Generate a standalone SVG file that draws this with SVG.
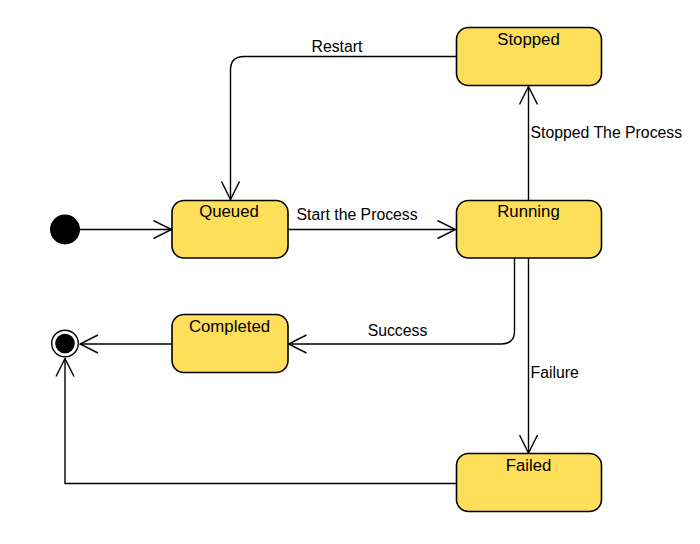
<svg xmlns="http://www.w3.org/2000/svg" width="700" height="544" viewBox="0 0 700 544">
<defs>
<style>
.state{fill:#FFDE59;stroke:#000;stroke-width:1.6}
.lbl{font-family:"Liberation Sans",Arial,sans-serif;font-size:15.8px;fill:#000}
.nl{font-family:"Liberation Sans",Arial,sans-serif;font-size:16.8px;fill:#000;text-anchor:middle}
.mid{text-anchor:middle}
.edge{fill:none;stroke:#000;stroke-width:1.4}
</style>
<marker id="arr" viewBox="0 0 20 20" refX="19" refY="10" markerWidth="20" markerHeight="20" markerUnits="userSpaceOnUse" orient="auto">
<path d="M1,1 L19,10 L1,19" fill="none" stroke="#000" stroke-width="1.4"/>
</marker>
</defs>
<rect width="700" height="544" fill="#fff"/>
<g id="connectors">
<path id="e-init" class="edge" d="M80,229.5 L171.5,229.5" marker-end="url(#arr)"/>
<path id="e-start" class="edge" d="M288,229.5 L455.5,229.5" marker-end="url(#arr)"/>
<path id="e-stop" class="edge" d="M528.5,200 L528.5,86.5" marker-end="url(#arr)"/>
<path id="e-restart" class="edge" d="M456,56.5 L244,56.5 Q230.5,56.5 230.5,70 L230.5,199.5" marker-end="url(#arr)"/>
<path id="e-success" class="edge" d="M514.5,258 L514.5,331 Q514.5,344 501.5,344 L288.5,344" marker-end="url(#arr)"/>
<path id="e-failure" class="edge" d="M528.5,258 L528.5,453" marker-end="url(#arr)"/>
<path id="e-complete" class="edge" d="M172,344 L80,344" marker-end="url(#arr)"/>
<path id="e-failed" class="edge" d="M456,483.5 L65,483.5 L65,358.5" marker-end="url(#arr)"/>
<text class="lbl mid" x="337" y="52">Restart</text>
<text class="lbl" x="296.5" y="219.5">Start the Process</text>
<text class="lbl" x="530.5" y="137.5">Stopped The Process</text>
<text class="lbl mid" x="397.5" y="336">Success</text>
<text class="lbl" x="530.5" y="378">Failure</text>
</g>
<g id="initial">
<circle cx="65" cy="229.5" r="15" fill="#000"/>
</g>
<g id="final">
<circle cx="65" cy="343.5" r="13.3" fill="#fff" stroke="#000" stroke-width="1.4"/>
<circle cx="65" cy="343.5" r="9.8" fill="#000"/>
</g>
<g id="queued">
<rect class="state" x="172" y="200.5" width="116" height="57.5" rx="12"/>
<text class="nl" x="229" y="216.7">Queued</text>
</g>
<g id="stopped">
<rect class="state" x="456.5" y="27.5" width="145" height="58" rx="12"/>
<text class="nl" x="528.5" y="45">Stopped</text>
</g>
<g id="running">
<rect class="state" x="456.5" y="200.5" width="145" height="57.5" rx="12"/>
<text class="nl" x="528.5" y="216.7">Running</text>
</g>
<g id="completed">
<rect class="state" x="172" y="314.5" width="116" height="58" rx="12"/>
<text class="nl" x="229.5" y="331.5">Completed</text>
</g>
<g id="failed">
<rect class="state" x="456.5" y="453.5" width="145" height="58" rx="12"/>
<text class="nl" x="528.5" y="470.5">Failed</text>
</g>
</svg>
